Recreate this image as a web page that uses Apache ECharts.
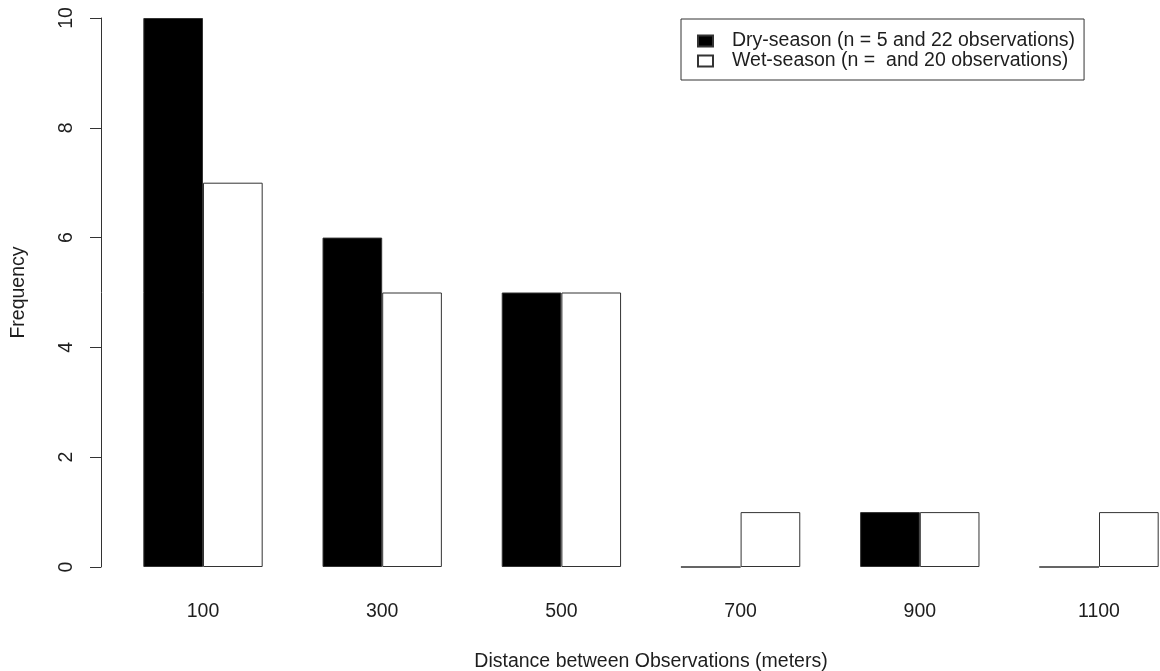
<!DOCTYPE html>
<html>
<head>
<meta charset="utf-8">
<title>Distance between Observations</title>
<script src="https://cdn.jsdelivr.net/npm/echarts@6/dist/echarts.min.js"></script>
<style>
  html, body { margin: 0; padding: 0; background: #ffffff; }
  #chart { width: 1160px; height: 671px; }
</style>
</head>
<body>
<div id="chart"></div>
<script>
// Distance bins (metres) and counts per season
const distances = ['100', '300', '500', '700', '900', '1100'];
const drySeason = [10, 6, 5, 0, 1, 0];
const wetSeason = [7, 5, 5, 1, 1, 1];
const yTicks = { min: 0, max: 10, step: 2 };
const seriesNames = ['Dry-season (n = 5 and 22 observations)', 'Wet-season (n =  and 20 observations)'];

const FONT = 'Liberation Sans, Arial, sans-serif';
const INK = '#1e1e1e';
const LINE = '#333333';

const chart = echarts.init(document.getElementById('chart'));
chart.setOption({
  backgroundColor: '#ffffff',
  animation: false,
  textStyle: { fontFamily: FONT, color: INK },
  // the plot area runs past the right edge, so the last bar is cut at the border
  grid: {
    left: 113.4, top: 18, bottom: 104, right: -28.6,
    containLabel: false,
    outerBoundsMode: 'none'
  },
  legend: {
    orient: 'vertical',
    left: 681,
    top: 19,
    padding: [12, 9, 9, 16],
    itemGap: 0,
    itemWidth: 15,
    itemHeight: 11,
    icon: 'rect',
    borderColor: LINE,
    borderWidth: 1,
    borderRadius: 0,
    textStyle: { fontFamily: FONT, fontSize: 19.5, color: INK, lineHeight: 20, padding: [0, 0, 0, 14] },
    data: seriesNames
  },
  xAxis: {
    type: 'category',
    data: distances,
    name: 'Distance between Observations (meters)',
    nameLocation: 'middle',
    nameGap: 85,
    nameTextStyle: { fontFamily: FONT, fontSize: 19.5, color: INK },
    axisLine: { show: false },
    axisTick: { show: false },
    axisLabel: { margin: 35, fontFamily: FONT, fontSize: 19.5, color: INK },
    splitLine: { show: false }
  },
  yAxis: {
    type: 'value',
    min: yTicks.min,
    max: yTicks.max,
    interval: yTicks.step,
    offset: 12.4,
    name: 'Frequency',
    nameLocation: 'middle',
    nameGap: 72,
    nameRotate: 90,
    nameTextStyle: { fontFamily: FONT, fontSize: 19.5, color: INK },
    axisLine: { show: true, lineStyle: { color: LINE, width: 1 } },
    axisTick: { show: true, inside: false, length: 11, lineStyle: { color: LINE, width: 1 } },
    axisLabel: { rotate: 90, margin: 24, fontFamily: FONT, fontSize: 19.5, color: INK },
    splitLine: { show: false }
  },
  series: [
    {
      name: seriesNames[0],
      type: 'bar',
      data: drySeason,
      barGap: '0%',
      barCategoryGap: '33.4%',
      itemStyle: { color: '#000000', borderColor: LINE, borderWidth: 1 }
    },
    {
      name: seriesNames[1],
      type: 'bar',
      data: wetSeason,
      barGap: '0%',
      barCategoryGap: '33.4%',
      itemStyle: { color: '#ffffff', borderColor: LINE, borderWidth: 1 }
    }
  ]
});
</script>
</body>
</html>
